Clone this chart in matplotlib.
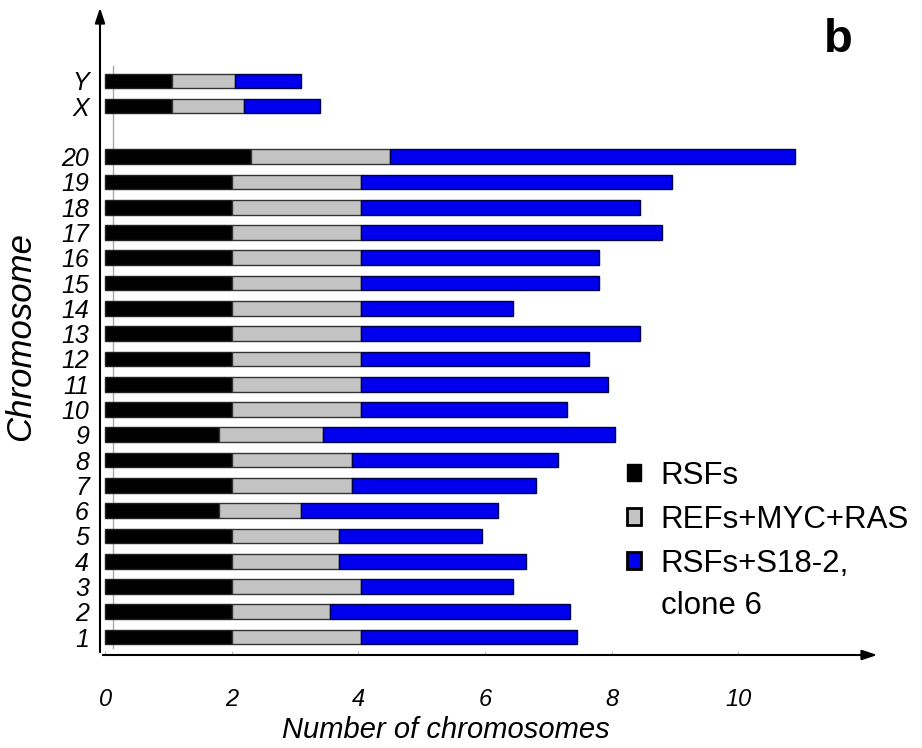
import matplotlib
matplotlib.use("Agg")
import matplotlib.pyplot as plt
from matplotlib.patches import Patch

plt.rcParams['font.family'] = ['Liberation Sans', 'DejaVu Sans']

# Chromosome labels, bottom to top
chromosomes = [str(i) for i in range(1, 21)] + ["X", "Y"]
# Segment widths
rsfs = [2.0, 2.0, 2.0, 2.0, 2.0, 1.8, 2.0, 2.0, 1.8, 2.0,
        2.0, 2.0, 2.0, 2.0, 2.0, 2.0, 2.0, 2.0, 2.0, 2.3, 1.05, 1.05]
refs_myc_ras = [2.05, 1.55, 2.05, 1.7, 1.7, 1.3, 1.9, 1.9, 1.65, 2.05,
                2.05, 2.05, 2.05, 2.05, 2.05, 2.05, 2.05, 2.05, 2.05, 2.2, 1.15, 1.0]
clone6 = [3.4, 3.8, 2.4, 2.95, 2.25, 3.1, 2.9, 3.25, 4.6, 3.25,
          3.9, 3.6, 4.4, 2.4, 3.75, 3.75, 4.75, 4.4, 4.9, 6.4, 1.2, 1.05]
# vertical slots: 1..20, a gap, then X and Y
positions = list(range(1, 21)) + [22, 23]

fig = plt.figure(figsize=(9.22, 7.48), dpi=100)
ax = fig.add_axes([100 / 922, 1 - 655 / 748, 780 / 922, 650 / 748])

# faint back wall line, behind the bars
ax.plot([0.12, 0.12], [0.55, 23.6], color="#aaaaaa", lw=1, zorder=0.5)

h = 0.58
left2 = [a for a in rsfs]
left3 = [a + b for a, b in zip(rsfs, refs_myc_ras)]
ax.barh(positions, rsfs, height=h, color="black", edgecolor="#222222", linewidth=1, zorder=2)
ax.barh(positions, refs_myc_ras, left=left2, height=h, color="#c4c4c4",
        edgecolor="#333333", linewidth=1, zorder=2)
ax.barh(positions, clone6, left=left3, height=h, color="#0000ee",
        edgecolor="#000044", linewidth=1, zorder=2)

ax.set_xlim(-0.08, 12.24)
ax.set_ylim(0.29, 26.0)

for s in ax.spines.values():
    s.set_visible(False)

# axis arrows
ax.annotate("", xy=(1, 0), xytext=(0, 0), xycoords="axes fraction",
            arrowprops=dict(arrowstyle="-|>,head_length=0.9,head_width=0.3",
                            color="black", lw=1.5))
ax.annotate("", xy=(0, 1), xytext=(0, 0), xycoords="axes fraction",
            arrowprops=dict(arrowstyle="-|>,head_length=0.9,head_width=0.3",
                            color="black", lw=1.5))

ax.set_yticks(positions)
ax.set_yticklabels(chromosomes, fontsize=18, style="italic")
ax.set_xticks([0, 2, 4, 6, 8, 10])
ax.set_xticklabels(["0", "2", "4", "6", "8", "10"], fontsize=17, style="italic")
ax.tick_params(axis="y", length=0, pad=8)
ax.tick_params(axis="x", length=3, color="#bbbbbb", direction="in", pad=24)

ax.set_xlabel("Number of chromosomes", fontsize=21, style="italic")
ax.xaxis.set_label_coords(0.444, -0.094)
ax.set_ylabel("Chromosome", fontsize=25, style="italic")
ax.yaxis.set_label_coords(-0.081, 0.49)

handles = [Patch(facecolor="black", edgecolor="black", label="RSFs"),
           Patch(facecolor="#c4c4c4", edgecolor="black", linewidth=2, label="REFs+MYC+RAS"),
           Patch(facecolor="#0000ee", edgecolor="black", linewidth=2, label="RSFs+S18-2,")]
ax.legend(handles=handles, loc="upper left", bbox_to_anchor=(0.66, 0.318),
          frameon=False, fontsize=22.5, handlelength=0.45, handleheight=0.45,
          handletextpad=0.6, labelspacing=0.45, borderaxespad=0)
fig.text(661 / 922, 1 - 606 / 748, "clone 6", fontsize=22.5, ha="left", va="center")

fig.text(838 / 922, 1 - 40 / 748, "b", fontsize=34, fontweight="bold",
         ha="center", va="center")

fig.savefig("out.png", dpi=100)
